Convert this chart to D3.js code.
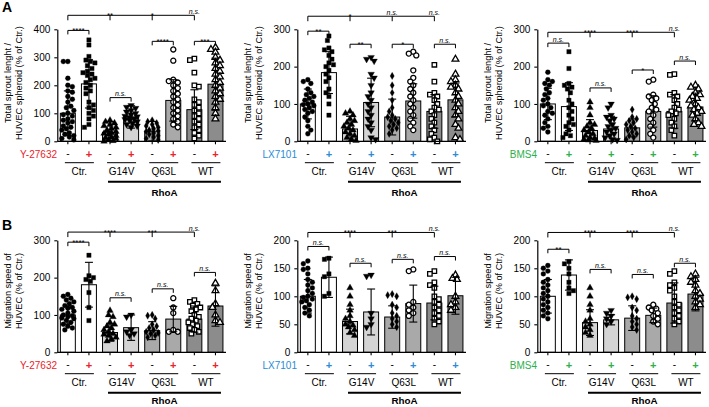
<!DOCTYPE html>
<html><head><meta charset="utf-8">
<script src="https://cdn.jsdelivr.net/npm/d3@7"></script>
<style>body{margin:0;background:#fff}svg{display:block;font-family:"Liberation Sans",Arial,Helvetica,sans-serif}</style>
</head><body><svg id="c" width="709" height="407"></svg>
<script>
// ---------- categories / labels ----------
const barKeys = ["Ctr-","Ctr+","G14V-","G14V+","Q63L-","Q63L+","WT-","WT+"];
const groups = ["Ctr.","G14V","Q63L","WT"];
const signs = ["-","+","-","+","-","+","-","+"];
const inhibitors = ["Y-27632","LX7101","BMS4"];
const inhibitorColors = ["#e8232b","#2a8bd6","#2cb04c"];
const barFills = ["#ffffff","#ffffff","#d4d4d4","#d4d4d4","#a9a9a9","#a9a9a9","#8c8c8c","#8c8c8c"];
const rhoaLabel = "RhoA";
const sproutTitle = ["Total sprout lenght /","HUVEC spheroid (% of Ctr.)"];
const migrationTitle = ["Migration speed of","HUVEC (% of Ctr.)"];
const ticksSproutY = [0,100,200,300,400];
const ticksSprout300 = [0,100,200,300];
const ticksMigY = [0,100,200,300];
const ticksMig200 = [0,50,100,150,200];

// ---------- A: sprout length, Y-27632 ----------
const sproutYMean = [100,205,32,87,36,146,113,204];
const sproutYSD   = [80,86,38,40,35,74,71,93];
const sproutYPts = [
 [285,285,225,200,195,180,175,160,150,140,125,120,110,100,95,90,80,75,70,65,55,50,45,40,30,25,20,15,10,5],
 [362,344,303,290,285,280,270,260,250,245,240,235,225,220,210,200,190,180,170,140,130,120,110,100,90,80,60,50],
 [75,70,65,60,55,50,45,40,35,30,28,25,20,15,12,10,5,2,0],
 [128,122,118,110,105,100,95,90,88,85,80,78,75,70,65,60,55,50],
 [75,70,65,60,55,50,45,40,38,35,30,25,20,15,10,5],
 [328,288,220,215,210,200,190,180,170,160,150,140,130,120,110,100,90,80,70,60,50],
 [295,290,245,200,195,150,140,130,120,110,100,90,80,70,60,50,40,30,20,10],
 [335,328,318,300,290,280,270,260,250,240,230,220,210,200,190,180,170,160,150,140,120,100,80]
];
const sproutYTopSig = ["**","*","n.s."];
const sproutYTopAt = 450;
const sproutYPairSig = ["****","n.s.","****","***"];
const sproutYPairAt = [396,156,357,357];

// ---------- A: sprout length, LX7101 ----------
const sproutLXMean = [100,184,33,104,65,108,80,111];
const sproutLXSD   = [40,56,34,65,48,46,45,45];
const sproutLXPts = [
 [165,160,155,140,130,125,120,115,110,105,100,98,95,90,85,80,75,65,55,40,30,20],
 [282,270,250,245,240,230,220,210,205,200,190,180,170,160,140,130,120,100,70],
 [80,75,70,60,55,50,45,40,35,30,25,20,15,10,5,2],
 [225,220,215,180,170,150,130,120,110,100,90,80,70,60,50,40,30,10,5],
 [175,150,130,110,90,80,70,65,60,55,50,45,40,35,30,20],
 [240,235,230,190,170,160,150,140,130,120,110,100,90,80,70,60,50,40,30],
 [205,160,130,125,120,110,100,90,85,80,70,60,50,40,30,20,10,5,0],
 [220,180,165,160,150,145,140,130,120,110,100,90,80,70,60,45,35,10,5]
];
const sproutLXTopSig = ["*","n.s.","n.s."];
const sproutLXTopAt = 335;
const sproutLXPairSig = ["**","**","*","n.s."];
const sproutLXPairAt = [295,260,260,260];

// ---------- A: sprout length, BMS4 ----------
const sproutBMean = [100,93,29,33,36,80,80,92];
const sproutBSD   = [42,64,29,34,24,42,45,37];
const sproutBPts = [
 [185,165,160,155,150,140,130,125,115,110,100,95,90,80,75,70,60,50,40,35,25],
 [240,195,155,150,145,140,130,110,100,90,80,70,60,50,45,40,30,20,15,10],
 [105,90,70,50,45,40,35,30,25,20,15,10,8,5,3,2],
 [100,90,70,65,60,55,45,40,35,30,25,20,15,10,5,3],
 [85,65,60,55,50,45,40,35,30,25,20,15,10,5],
 [165,160,125,120,115,110,100,90,85,80,70,60,50,40,30,20,10],
 [180,178,130,125,120,110,100,90,85,80,75,70,60,50,40,30,15],
 [150,145,140,130,125,120,115,110,100,95,90,85,80,75,70,60,50,45,40]
];
const sproutBTopSig = ["****","****","n.s."];
const sproutBTopAt = 292;
const sproutBPairSig = ["n.s.","n.s.","*","n.s."];
const sproutBPairAt = [263,143,191,215];

// ---------- B: migration, Y-27632 ----------
const migYMean = [100,181,53,66,58,89,89,124];
const migYSD   = [24,60,23,34,24,34,35,54];
const migYPts = [
 [155,150,145,140,135,130,125,120,118,115,110,105,100,98,95,92,90,85,80,75,70,65,60],
 [260,205,200,195,190,160,120,85],
 [112,100,95,80,75,70,65,60,55,50,48,45,40,35,30],
 [100,95,60,55,50,45],
 [100,98,90,75,70,65,60,55,52,50,45,40],
 [145,120,105,60,55,55],
 [140,135,130,125,120,115,110,100,95,90,85,80,75,70,65,60,55,50],
 [185,165,130,120,100,85,80]
];
const migYTopSig = ["****","***","n.s."];
const migYTopAt = 322;
const migYPairSig = ["****","n.s.","n.s.","n.s."];
const migYPairAt = [295,146,170,214];

// ---------- B: migration, LX7101 ----------
const migLXMean = [100,134,55,72,63,87,88,101];
const migLXSD   = [30,36,22,41,20,33,30,33];
const migLXPts = [
 [163,158,150,148,140,130,125,120,115,110,105,100,98,95,92,90,85,80,75,70,65],
 [168,166,140,135,105,100],
 [115,100,85,75,65,60,55,50,48,45,40,35,30],
 [138,136,70,60,50,45],
 [104,102,100,85,80,70,65,60,55,50,45],
 [148,145,90,85,80,75,70,65],
 [145,140,125,120,115,100,95,90,85,80,75,70,65,60,55,50],
 [138,132,130,100,90,85,80,75]
];
const migLXTopSig = ["****","***","n.s."];
const migLXTopAt = 214;
const migLXPairSig = ["n.s.","n.s.","n.s.","n.s."];
const migLXPairAt = [189,159,166,171];

// ---------- B: migration, BMS4 ----------
const migBMean = [100,138,53,58,61,66,88,104];
const migBSD   = [30,27,23,9,22,13,36,30];
const migBPts = [
 [155,150,145,140,130,125,120,115,110,105,100,95,90,85,80,75,70,65,60],
 [162,158,150,140,125,115,110,105],
 [115,100,85,75,60,55,50,45,40,35,30],
 [75,70,65,60,55,50],
 [100,98,95,80,75,65,60,55,50,45,40],
 [85,80,78,75,70,65,60,55,50],
 [145,140,125,120,115,110,100,90,85,80,75,70,65,60,55,50],
 [140,135,130,125,120,110,105,100,95,90,85,80]
];
const migBTopSig = ["****","****","n.s."];
const migBTopAt = 214;
const migBPairSig = ["**","n.s.","n.s.","n.s."];
const migBPairAt = [184,148,139,159];

// ---------- panel table built from arrays ----------
const colX = [0,240,480], rowY = [0,211];
const panels = [
 {col:0,row:0,ymax:400,ticks:ticksSproutY,title:sproutTitle,inh:0,mean:sproutYMean,sd:sproutYSD,pts:sproutYPts,topSig:sproutYTopSig,topAt:sproutYTopAt,pairSig:sproutYPairSig,pairAt:sproutYPairAt},
 {col:1,row:0,ymax:300,ticks:ticksSprout300,title:sproutTitle,inh:1,mean:sproutLXMean,sd:sproutLXSD,pts:sproutLXPts,topSig:sproutLXTopSig,topAt:sproutLXTopAt,pairSig:sproutLXPairSig,pairAt:sproutLXPairAt},
 {col:2,row:0,ymax:300,ticks:ticksSprout300,title:sproutTitle,inh:2,mean:sproutBMean,sd:sproutBSD,pts:sproutBPts,topSig:sproutBTopSig,topAt:sproutBTopAt,pairSig:sproutBPairSig,pairAt:sproutBPairAt},
 {col:0,row:1,ymax:300,ticks:ticksMigY,title:migrationTitle,inh:0,mean:migYMean,sd:migYSD,pts:migYPts,topSig:migYTopSig,topAt:migYTopAt,pairSig:migYPairSig,pairAt:migYPairAt},
 {col:1,row:1,ymax:200,ticks:ticksMig200,title:migrationTitle,inh:1,mean:migLXMean,sd:migLXSD,pts:migLXPts,topSig:migLXTopSig,topAt:migLXTopAt,pairSig:migLXPairSig,pairAt:migLXPairAt},
 {col:2,row:1,ymax:200,ticks:ticksMig200,title:migrationTitle,inh:2,mean:migBMean,sd:migBSD,pts:migBPts,topSig:migBTopSig,topAt:migBTopAt,pairSig:migBPairSig,pairAt:migBPairAt}
];

const svg = d3.select("#c");
svg.append("text").attr("x",2).attr("y",12).attr("font-size",14).attr("font-weight","bold").text("A");
svg.append("text").attr("x",2).attr("y",229.5).attr("font-size",14).attr("font-weight","bold").text("B");

const symTypes = [d3.symbolCircle,d3.symbolSquare,d3.symbolTriangle,d3.symbolTriangle,d3.symbolDiamond,d3.symbolCircle,d3.symbolSquare,d3.symbolTriangle];
const symOpen = [false,false,false,false,false,true,true,true];
const symRot = [0,0,0,180,0,0,0,0];
const symSize = [19,19,19,19,15,20,20,20];

function swarm(vals, y, cx, halfW, r){
  const sorted = vals.slice().sort((a,b)=>b-a);
  const placed = [];
  const offs=[0]; for(let k=1;k*1.5<=halfW;k++){ offs.push(k*1.5,-k*1.5); }
  sorted.forEach((v,i)=>{
    const py=y(v);
    let best=0,bestScore=Infinity;
    for(const dx0 of offs){
      const dx = (i%2? -dx0: dx0);
      let ov=0;
      for(const p of placed){const dd=Math.hypot(p.x-(cx+dx),p.y-py); if(dd<2*r) ov+=(2*r-dd);}
      if(ov===0){best=dx;bestScore=0;break;}
      if(ov<bestScore){bestScore=ov;best=dx;}
    }
    placed.push({x:cx+best,y:py,v});
  });
  return placed;
}

panels.forEach(p=>{
  const g = svg.append("g").attr("transform",`translate(${colX[p.col]},${rowY[p.row]})`);
  const x = d3.scaleBand().domain(barKeys).range([57.3,226]).paddingInner(0.29).paddingOuter(0.145);
  const y = d3.scaleLinear().domain([0,p.ymax]).range([141.3,29.3]);
  const cxOf = i => x(barKeys[i]) + x.bandwidth()/2;
  const col = inhibitorColors[p.inh];

  // bars
  g.selectAll("rect.bar").data(p.mean).join("rect")
    .attr("x",(d,i)=>x(barKeys[i])).attr("y",d=>y(d))
    .attr("width",x.bandwidth()).attr("height",d=>y(0)-y(d))
    .attr("fill",(d,i)=>barFills[i]).attr("stroke","#000").attr("stroke-width",1);

  // points
  p.pts.forEach((vals,i)=>{
    const placed = swarm(vals,y,cxOf(i),6.5,2.25);
    const sym = d3.symbol().type(symTypes[i]).size(symSize[i]);
    g.selectAll(null).data(placed).join("path")
      .attr("d",sym)
      .attr("transform",d=>`translate(${d.x},${d.y}) rotate(${symRot[i]})`)
      .attr("fill",symOpen[i]?"#fff":"#000")
      .attr("stroke","#000").attr("stroke-width",symOpen[i]?1.3:0.3);
  });

  // error bars
  p.mean.forEach((m,i)=>{
    const cx=cxOf(i), lo=Math.max(0,m-p.sd[i]), hi=m+p.sd[i];
    g.append("line").attr("x1",cx).attr("x2",cx).attr("y1",y(lo)).attr("y2",y(hi)).attr("stroke","#000").attr("stroke-width",1.1);
    [lo,hi].forEach(v=>g.append("line").attr("x1",cx-4).attr("x2",cx+4).attr("y1",y(v)).attr("y2",y(v)).attr("stroke","#000").attr("stroke-width",1.1));
  });

  // axes
  const ya = g.append("g").attr("transform","translate(57.3,0)")
    .call(d3.axisLeft(y).tickValues(p.ticks).tickSize(3).tickPadding(4).tickSizeOuter(0));
  ya.selectAll("text").attr("font-size",10).attr("font-family","Liberation Sans, Arial, sans-serif").attr("fill","#000");
  const xa = g.append("g").attr("transform","translate(0,141.3)")
    .call(d3.axisBottom(x).tickSize(3).tickSizeOuter(0).tickFormat(""));
  [ya,xa].forEach(a=>{a.select(".domain").attr("stroke-width",1.2);a.selectAll(".tick line").attr("stroke-width",1.1);});
  xa.select(".domain").attr("d","M57.3,0H226");

  // y title
  const tcy = p.row===0?83:80;
  p.title.forEach((t,k)=>{
    g.append("text").attr("transform",`translate(${11+k*11.3},${tcy}) rotate(-90)`)
      .attr("text-anchor","middle").attr("font-size",9.2).attr("fill","#000").text(t);
  });

  // treatment row
  g.append("text").attr("x",57).attr("y",157.5).attr("text-anchor","end").attr("font-size",10).attr("fill",col).text(inhibitors[p.inh]);
  signs.forEach((s,i)=>{
    g.append("text").attr("x",cxOf(i)).attr("y",s==="+"?158:157).attr("text-anchor","middle")
      .attr("font-size",s==="+"?11:10).attr("font-weight",s==="+"?"bold":"normal")
      .attr("fill",s==="+"?col:"#000").text(s);
  });
  groups.forEach((gname,k)=>{
    const gc=(cxOf(2*k)+cxOf(2*k+1))/2+1;
    g.append("line").attr("x1",gc-14.5).attr("x2",gc+14.5).attr("y1",162.7).attr("y2",162.7).attr("stroke","#000").attr("stroke-width",1);
    g.append("text").attr("x",gc).attr("y",174.5).attr("text-anchor","middle").attr("font-size",10).attr("fill","#000").text(gname);
  });
  const rx1=cxOf(2)-2, rx2=cxOf(7)+5.5;
  g.append("line").attr("x1",rx1).attr("x2",rx2).attr("y1",181.7).attr("y2",181.7).attr("stroke","#000").attr("stroke-width",2);
  g.append("text").attr("x",(rx1+rx2)/2).attr("y",p.row===0?195.5:193).attr("text-anchor","middle").attr("font-size",9.8).attr("font-weight","bold").attr("fill","#000").text(rhoaLabel);

  // significance labels
  function sigText(xc,ly,label){
    const ns = label==="n.s.";
    g.append("text").attr("x",xc).attr("y",ns?ly-1.5:ly+3).attr("text-anchor","middle")
      .attr("font-size",ns?7:8).attr("font-style",ns?"italic":"normal").attr("fill","#000").text(label);
  }
  // top comparison bracket
  const ty=y(p.topAt);
  g.append("line").attr("x1",cxOf(0)).attr("x2",cxOf(6)).attr("y1",ty).attr("y2",ty).attr("stroke","#000").attr("stroke-width",1);
  [0,2,4,6].forEach((bi,k)=>{
    g.append("line").attr("x1",cxOf(bi)).attr("x2",cxOf(bi)).attr("y1",ty).attr("y2",ty+5).attr("stroke","#000").attr("stroke-width",1);
    if(k>0) sigText(cxOf(bi),ty,p.topSig[k-1]);
  });
  // pair brackets
  p.pairSig.forEach((lab,k)=>{
    const a=cxOf(2*k), b=cxOf(2*k+1), py=y(p.pairAt[k]);
    g.append("path").attr("d",`M${a},${py+4}V${py}H${b}V${py+4}`).attr("fill","none").attr("stroke","#000").attr("stroke-width",1);
    sigText((a+b)/2,py,lab);
  });
});
</script></body></html>
